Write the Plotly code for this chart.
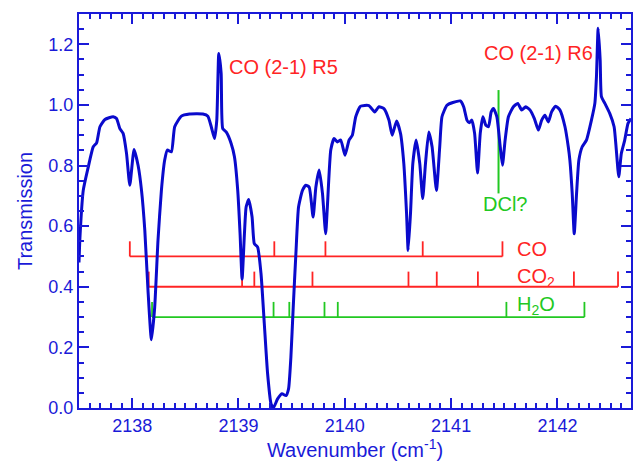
import plotly.graph_objects as go

# Spectrum
wavenumber = [2137.50, 2137.509, 2137.54, 2137.587, 2137.634, 2137.666, 2137.697, 2137.744, 2137.821, 2137.853,
              2137.884, 2137.915, 2137.947, 2137.978, 2138.018, 2138.056, 2138.088, 2138.119, 2138.149, 2138.181,
              2138.212, 2138.243, 2138.275, 2138.306, 2138.331, 2138.369, 2138.40, 2138.463, 2138.54, 2138.665,
              2138.712, 2138.744, 2138.775, 2138.796, 2138.815, 2138.837, 2138.852, 2138.884, 2138.931, 2138.962,
              2138.993, 2139.015, 2139.034, 2139.056, 2139.072, 2139.096, 2139.128, 2139.149, 2139.180, 2139.212,
              2139.243, 2139.274, 2139.306, 2139.328, 2139.368, 2139.409, 2139.447, 2139.471, 2139.493, 2139.515,
              2139.540, 2139.565, 2139.602, 2139.634, 2139.665, 2139.702, 2139.728, 2139.759, 2139.790, 2139.820,
              2139.836, 2139.868, 2139.899, 2139.930, 2139.962, 2140.002, 2140.040, 2140.071, 2140.103, 2140.149,
              2140.227, 2140.281, 2140.321, 2140.368, 2140.415, 2140.446, 2140.487, 2140.524, 2140.555, 2140.581,
              2140.596, 2140.618, 2140.640, 2140.671, 2140.705, 2140.733, 2140.759, 2140.790, 2140.821, 2140.862,
              2140.893, 2140.914, 2140.961, 2141.017, 2141.087, 2141.118, 2141.149, 2141.171, 2141.195, 2141.221,
              2141.249, 2141.274, 2141.299, 2141.327, 2141.352, 2141.377, 2141.399, 2141.430, 2141.462, 2141.483,
              2141.508, 2141.539, 2141.586, 2141.627, 2141.664, 2141.702, 2141.743, 2141.783, 2141.821, 2141.852,
              2141.883, 2141.914, 2141.945, 2141.983, 2142.024, 2142.071, 2142.102, 2142.117, 2142.139, 2142.158,
              2142.180, 2142.202, 2142.233, 2142.273, 2142.320, 2142.352, 2142.367, 2142.383, 2142.402, 2142.414,
              2142.446, 2142.492, 2142.533, 2142.554, 2142.577, 2142.601, 2142.633, 2142.664, 2142.692]
transmission = [0.48, 0.564, 0.718, 0.795, 0.862, 0.875, 0.928, 0.952, 0.961, 0.955,
                0.922, 0.906, 0.84, 0.735, 0.853, 0.80, 0.718, 0.586, 0.388, 0.225,
                0.333, 0.553, 0.718, 0.818, 0.851, 0.845, 0.928, 0.963, 0.970, 0.970,
                0.963, 0.928, 0.889, 0.95, 1.17, 1.104, 0.922, 0.911, 0.873, 0.829,
                0.718, 0.575, 0.425, 0.575, 0.663, 0.688, 0.630, 0.542, 0.531, 0.443,
                0.278, 0.113, 0.014, 0.0, 0.030, 0.047, 0.041, 0.063, 0.168, 0.333,
                0.509, 0.663, 0.718, 0.735, 0.729, 0.630, 0.729, 0.785, 0.708, 0.575,
                0.663, 0.851, 0.889, 0.878, 0.884, 0.834, 0.884, 0.900, 0.961, 0.996,
                0.998, 0.977, 0.994, 0.988, 0.95, 0.900, 0.947, 0.906, 0.807, 0.642,
                0.52, 0.642, 0.807, 0.884, 0.807, 0.691, 0.807, 0.911, 0.862, 0.718,
                0.862, 0.961, 0.999, 1.008, 1.013, 0.994, 0.95, 0.941, 0.95, 0.906,
                0.775, 0.906, 0.961, 0.933, 0.928, 0.977, 0.988, 0.961, 0.862, 0.801,
                0.884, 0.961, 0.994, 1.005, 0.983, 0.994, 0.983, 0.955, 0.917, 0.95,
                0.966, 0.944, 0.977, 0.996, 0.983, 0.928, 0.862, 0.818, 0.708, 0.575,
                0.708, 0.818, 0.862, 0.884, 0.95, 1.005, 1.093, 1.253, 1.148, 1.027,
                1.005, 0.972, 0.928, 0.851, 0.763, 0.840, 0.884, 0.939, 0.955]

# Line positions of the assignment combs
co_lines = [2137.978, 2139.337, 2139.818, 2140.733, 2141.483]
co2_lines = [2138.156, 2139.034, 2139.149, 2139.696, 2140.599, 2140.865, 2141.252, 2142.155, 2142.570]
h2o_lines = [2138.187, 2139.330, 2139.478, 2139.809, 2139.934, 2141.520, 2142.254]
comb_levels = {"CO": 0.5, "CO2": 0.4, "H2O": 0.3}
tick_height = 0.05
dcl_position = 2141.446
dcl_span = [0.708, 1.049]

BLUE = "#1a1ad8"
CURVE = "#0a0acc"
RED = "#ff2424"
GREEN = "#22c822"
FONT = "Liberation Sans, Arial, sans-serif"


def comb(positions, level):
    xs, ys = [min(positions), max(positions), None], [level, level, None]
    for p in positions:
        xs += [p, p, None]
        ys += [level, level + tick_height, None]
    return xs, ys


fig = go.Figure()
for name, pos, col in [("CO", co_lines, RED), ("CO2", co2_lines, RED), ("H2O", h2o_lines, GREEN)]:
    xs, ys = comb(pos, comb_levels[name])
    fig.add_trace(go.Scatter(x=xs, y=ys, mode="lines", line=dict(color=col, width=1.8),
                             showlegend=False, hoverinfo="skip"))

fig.add_trace(go.Scatter(x=[dcl_position, dcl_position], y=dcl_span, mode="lines",
                         line=dict(color=GREEN, width=2), showlegend=False))

fig.add_trace(go.Scatter(x=wavenumber, y=transmission, mode="lines",
                         line=dict(color=CURVE, width=3, shape="spline", smoothing=0.5),
                         showlegend=False))

annotations = [
    dict(x=2138.895, y=1.125, text="CO (2-1) R5", color=RED, xanchor="left"),
    dict(x=2141.295, y=1.172, text="CO (2-1) R6", color=RED, xanchor="left"),
    dict(x=2141.60, y=0.524, text="CO", color=RED, xanchor="left"),
    dict(x=2141.60, y=0.432, text="CO<sub>2</sub>", color=RED, xanchor="left"),
    dict(x=2141.60, y=0.338, text="H<sub>2</sub>O", color=GREEN, xanchor="left"),
    dict(x=2141.508, y=0.674, text="DCl?", color=GREEN, xanchor="center"),
]
for a in annotations:
    fig.add_annotation(x=a["x"], y=a["y"], text=a["text"], showarrow=False,
                       xanchor=a["xanchor"], yanchor="middle",
                       font=dict(family=FONT, size=20, color=a["color"]))

axis_common = dict(
    showline=True, linecolor=BLUE, linewidth=2, mirror="allticks",
    ticks="inside", ticklen=10, tickwidth=2, tickcolor=BLUE,
    showgrid=False, zeroline=False,
    tickfont=dict(family=FONT, size=18, color=BLUE),
)

fig.update_layout(
    width=638, height=463,
    margin=dict(l=79, r=5, t=14, b=55),
    paper_bgcolor="white", plot_bgcolor="white",
    xaxis=dict(axis_common, range=[2137.5, 2142.692], tickvals=[2138, 2139, 2140, 2141, 2142],
               minor=dict(dtick=0.1, ticks="inside", ticklen=5, tickwidth=1.5, tickcolor=BLUE),
               title=dict(text="Wavenumber (cm<sup>-1</sup>)", standoff=7,
                          font=dict(family=FONT, size=20, color=BLUE))),
    yaxis=dict(axis_common, range=[0, 1.30], tickvals=[0, 0.2, 0.4, 0.6, 0.8, 1.0, 1.2],
               tickformat=".1f",
               minor=dict(dtick=0.05, ticks="inside", ticklen=5, tickwidth=1.5, tickcolor=BLUE),
               title=dict(text="Transmission", standoff=10,
                          font=dict(family=FONT, size=20, color=BLUE))),
)

fig.write_html("out.html")
